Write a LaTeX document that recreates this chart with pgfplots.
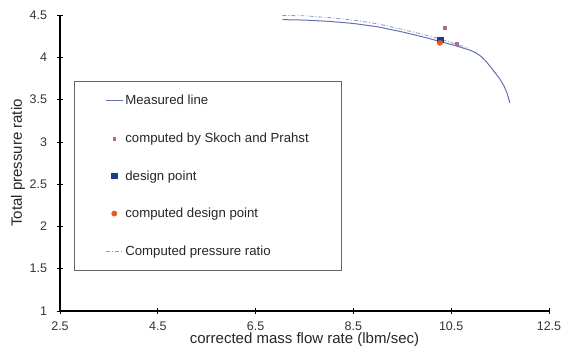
\documentclass[border=0pt]{standalone}
\usepackage{fontspec}
\setmainfont{Liberation Sans}
\usepackage{pgfplots}
\pgfplotsset{compat=1.18}
\definecolor{lineblue}{RGB}{100,112,175}
\definecolor{dashblue}{RGB}{140,150,200}
\definecolor{skoch}{RGB}{175,105,150}
\definecolor{dpblue}{RGB}{30,60,140}
\definecolor{dporange}{RGB}{230,90,35}
\begin{document}
\begin{tikzpicture}
\begin{axis}[
  scale only axis,
  width=489pt, height=296pt,
  xmin=2.5, xmax=12.5, ymin=1, ymax=4.5,
  axis x line*=bottom, axis y line*=left,
  axis line style={line width=1.2pt, -},
  xtick={2.5,4.5,6.5,8.5,10.5,12.5},
  ytick={1,1.5,2,2.5,3,3.5,4,4.5},
  xticklabels={2.5,4.5,6.5,8.5,10.5,12.5},
  yticklabels={1,1.5,2,2.5,3,3.5,4,4.5},
  tick align=center,
  major tick length=6pt,
  tick style={black, line width=0.6pt},
  tick label style={font=\fontsize{12.5}{14}\selectfont, text=black!80},
  yticklabel style={xshift=-6.5pt},
  xticklabel style={yshift=-4pt},
  label style={font=\fontsize{15}{17}\selectfont, text=black!85},
  xlabel={corrected mass flow rate (lbm/sec)},
  ylabel={Total pressure ratio},
  xlabel style={at={(axis description cs:0.5,0)}, anchor=center, yshift=-29pt},
  ylabel style={at={(axis description cs:0,0.5)}, anchor=center, yshift=42pt},
  legend cell align=left,
  legend style={
    at={(rel axis cs:0.0286,0.777)}, anchor=north west,
    draw=black!60, line width=0.6pt,
    inner xsep=31pt, inner ysep=12pt,
    row sep=22.5pt,
    font=\fontsize{13.2}{15}\selectfont,
    nodes={text=black!85},
  },
  legend columns=1,
]
\addplot[lineblue, line width=1pt] coordinates {
(7.05,4.445) (7.5,4.44) (8.0,4.425) (8.5,4.40) (9.0,4.36) (9.5,4.30) (10.0,4.23) (10.28,4.185) (10.6,4.135) (10.88,4.085) (11.0,4.055) (11.1,4.015) (11.2,3.96) (11.3,3.89) (11.4,3.815) (11.5,3.74) (11.58,3.66) (11.64,3.58) (11.68,3.50) (11.70,3.46)
};
\addlegendentry{Measured line}
\addplot[only marks, mark=square*, mark size=1.4pt, skoch] coordinates {(10.37,4.35) (10.62,4.16)};
\addlegendentry{computed by Skoch and Prahst}
\addplot[only marks, mark=square*, mark size=2.8pt, dpblue] coordinates {(10.27,4.21)};
\addlegendentry{design point}
\addplot[only marks, mark=*, mark size=2.6pt, dporange] coordinates {(10.27,4.17)};
\addlegendentry{computed design point}
\addplot[dashblue, line width=0.8pt, dash pattern=on 4pt off 2pt on 1pt off 2pt] coordinates {
(7.05,4.495) (7.5,4.49) (8.0,4.47) (8.5,4.44) (9.0,4.395) (9.5,4.33) (10.0,4.26) (10.28,4.215) (10.6,4.155) (10.85,4.11)
};
\addlegendentry{Computed pressure ratio}
\end{axis}
\pgfresetboundingbox
\path[use as bounding box] ([shift={(-60pt,-45pt)}]current axis.south west) rectangle ([shift={(14pt,15pt)}]current axis.north east);
\end{tikzpicture}
\end{document}
